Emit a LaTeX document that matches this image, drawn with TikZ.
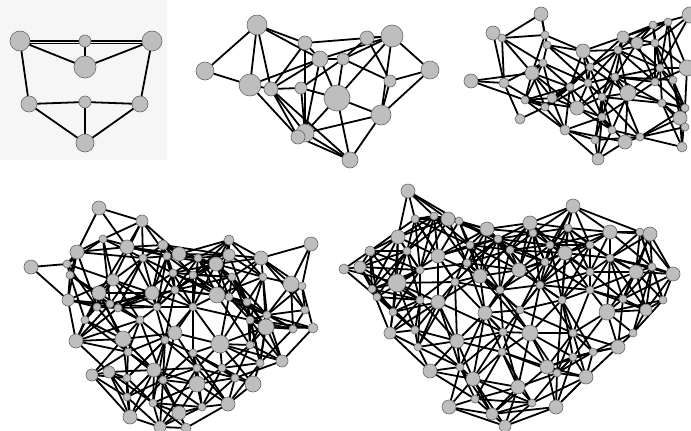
\documentclass[tikz,border=0pt]{standalone}
\pgfdeclarelayer{back}\pgfdeclarelayer{bg}\pgfsetlayers{back,bg,main}
\definecolor{vfill}{HTML}{BEBEBE}
\definecolor{vline}{HTML}{686868}
\definecolor{panelbg}{HTML}{F6F6F6}
\tikzset{
  vtx/.style={circle,fill=vfill,draw=vline,line width=0.6pt,inner sep=0pt,minimum size=#1},
  edge/.style={line width=1.8pt,black,line cap=round}
}
\newcommand\placenodes[2]{%
  \foreach \px/\py/\pr [count=\k] in {#2}{%
    \node[vtx=\pr*2pt] (#1\k) at (\px,\py) {};
    \expandafter\xdef\csname #1X\k\endcsname{\px}%
    \expandafter\xdef\csname #1Y\k\endcsname{\py}%
    \xdef\lastN{\k}}}
\newcommand\connectnear[4]{%
  \begin{pgfonlayer}{bg}
  \foreach \i in {1,...,\lastN}{\foreach \j in {\i,...,\lastN}{\ifnum\j>\i\relax
    \pgfmathsetmacro\dd{veclen(\csname #1X\i\endcsname-\csname #1X\j\endcsname,\csname #1Y\i\endcsname-\csname #1Y\j\endcsname)}%
    \pgfmathtruncatemacro\hh{mod(\i*17+\j*31,7)}%
    \pgfmathtruncatemacro\ok{((\dd<#2)&&(\hh<#4)) || ((\dd<#3)&&(\hh==0))}%
    \ifnum\ok>0 \draw[edge] (#1\i) -- (#1\j);\fi
  \fi}}
  \end{pgfonlayer}}
\begin{document}
\begin{tikzpicture}[x=1pt,y=-1pt]
\useasboundingbox (0,0) rectangle (691,431);
\begin{pgfonlayer}{back}
\fill[panelbg] (0,0) rectangle (167,160);
\end{pgfonlayer}
% ---------- panel 1
\placenodes{a}{20/41/10, 85/41/6, 152/41/10, 85/67/11, 29/104/8, 85/102/6, 140/104/8, 85/143/9}
\begin{pgfonlayer}{bg}
\foreach \u/\v in {1/2,2/3,2/4,1/4,3/4,1/5,3/7,5/6,6/7,6/8,5/8,7/8}
  \draw[edge] (a\u) -- (a\v);
\draw[edge,line width=1pt] ([yshift=-2.5pt]a1.east) -- ([yshift=-2.5pt]a3.west);
\end{pgfonlayer}
% ---------- panel 2
\placenodes{b}{257/25/10, 205/71/9, 250/85/11, 271/89/7, 305/43/7, 320/59/8, 301/88/6, 343/59/6, 367/38/7, 392/36/11, 430/70/9, 390/81/6, 337/98/13, 381/115/10, 305/133/9, 298/137/7, 350/160/8}
\begin{pgfonlayer}{bg}
\foreach \u/\v in {1/2,1/3,1/4,1/5,1/6,2/3,3/4,3/6,4/5,4/6,4/7,4/15,4/16,3/16,5/6,5/15,6/8,6/10,6/13,6/15,7/8,7/13,7/15,8/10,8/9,8/12,8/13,9/12,9/10,10/13,10/11,10/14,11/12,11/14,13/14,13/15,13/17,14/15,14/17,15/17,16/17,4/17,5/10,12/14}
  \draw[edge] (b\u) -- (b\v);
\end{pgfonlayer}
% ---------- panel 3
\placenodes{c}{541/14/7, 493/33/7, 471/81/7, 532/73/7, 504/83/5, 545/35/4, 547/45/4, 583/51/7, 623/37/6, 637/43/6, 653/25/4, 668/22/4, 690/15/8, 687/68/8, 660/68/4, 628/93/8, 577/108/7, 552/98/5, 520/119/5, 565/130/5, 598/159/6, 625/142/7, 640/137/4, 682/147/5, 680/118/7, 685/108/4, 590/67/4, 602/117/4, 545/107/4, 502/38/4, 543/63/4, 570/87/4, 615/77/4, 618/50/4, 655/82/4, 595/140/4, 662/103/4, 612/130/4, 525/100/4, 602/97/4, 655/43/4, 588/83/4, 685/127/4, 673/80/4}
\connectnear{c}{50}{66}{5}
% ---------- panel 4
\placenodes{d}{99/208/7, 142/221/6, 103/239/4, 77/252/7, 31/267/7, 127/247/7, 163/245/5, 179/254/7, 67/264/4, 143/258/4, 167/256/4, 113/280/6, 70/275/4, 99/293/7, 152/293/7, 68/300/6, 173/273/4, 110/304/4, 229/240/5, 311/244/7, 229/255/6, 261/258/7, 216/264/7, 198/258/4, 232/277/4, 263/277/4, 291/284/8, 302/286/4, 193/275/4, 217/295/8, 247/302/4, 229/297/4, 193/307/4, 76/341/7, 123/339/8, 175/333/7, 220/344/9, 266/327/8, 293/329/4, 282/361/6, 253/384/8, 197/384/8, 154/370/7, 109/372/6, 92/375/6, 130/417/7, 179/413/7, 228/404/7, 202/407/4, 160/427/6, 186/428/5, 222/368/4, 260/363/4, 250/345/4, 197/368/4, 128/352/4, 193/353/4, 165/340/4, 127/378/4, 127/397/4, 153/403/4, 163/380/4, 235/378/4, 267/315/4, 157/307/4, 97/307/4, 118/308/4, 313/328/5, 305/310/4, 85/320/4, 140/320/4, 250/320/4, 175/290/4}
\connectnear{d}{54}{70}{5}
% ---------- panel 5
\placenodes{e}{408/191/7, 415/219/4, 434/216/4, 448/219/7, 459/221/4, 487/229/7, 398/237/7, 370/251/5, 344/269/5, 360/267/6, 407/251/4, 438/256/7, 397/283/9, 372/289/4, 480/276/7, 498/239/4, 377/297/4, 467/263/4, 573/206/7, 530/223/7, 568/228/4, 610/232/7, 640/232/4, 650/234/7, 565/253/7, 533/233/4, 519/270/7, 590/272/4, 636/272/7, 652/267/4, 673/274/7, 610/258/4, 663/300/4, 390/333/6, 393/312/4, 415/330/4, 418/347/4, 457/341/7, 485/313/7, 438/302/7, 530/333/8, 562/300/4, 573/333/4, 607/312/8, 646/310/6, 623/299/4, 633/333/4, 618/347/7, 502/352/4, 430/371/7, 460/367/4, 473/379/7, 518/387/7, 547/367/7, 586/377/7, 557/373/4, 449/407/7, 492/414/6, 505/426/6, 532/403/4, 556/407/7, 475/399/4, 593/352/4, 573/357/4, 503/332/4, 520/310/4, 420/270/4, 455/282/4, 500/290/4, 540/285/4, 510/250/4, 545/262/4, 590/290/4, 420/300/4, 470/245/4, 550/245/4, 590/245/4}
\connectnear{e}{60}{76}{6}
\end{tikzpicture}
\end{document}
